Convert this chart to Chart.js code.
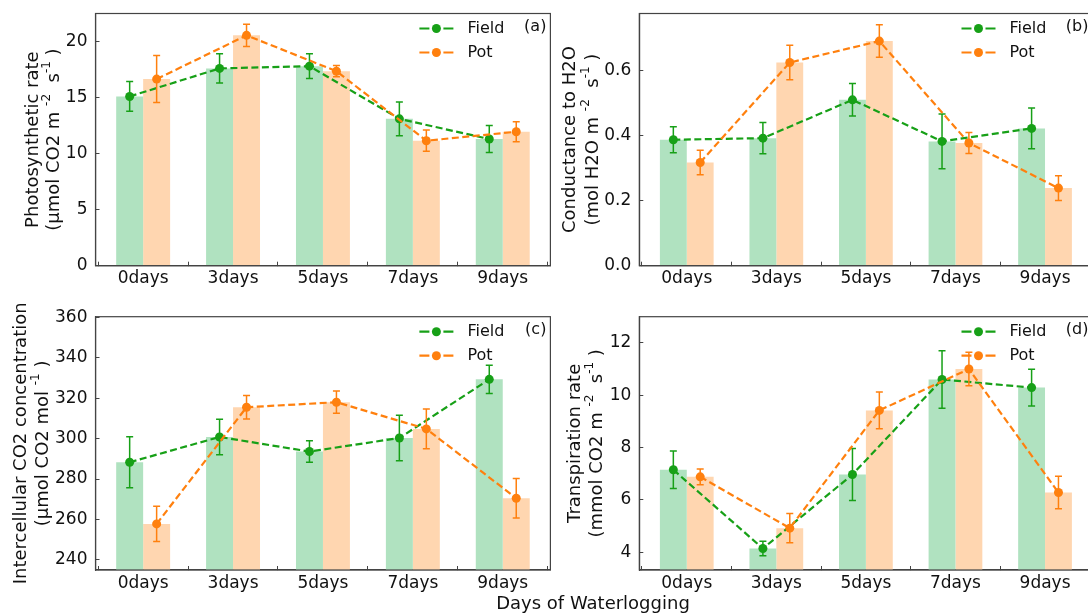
<!DOCTYPE html>
<html><head><meta charset="utf-8">
<script src="https://cdn.jsdelivr.net/npm/chart.js@4.4.1/dist/chart.umd.min.js"></script>
<style>
html,body{margin:0;padding:0;background:#fff;}
#wrap{position:relative;width:1088px;height:615px;overflow:hidden;background:#fff;}
#wrap canvas{position:absolute;}
#xt{position:absolute;left:393px;width:400px;top:592px;text-align:center;font:18px 'DejaVu Sans';color:#111;line-height:22px;}
</style></head><body>
<div id="wrap">
<canvas id="ca" style="left:0;top:0" width="560" height="300"></canvas>
<canvas id="cb" style="left:545px;top:0" width="560" height="300"></canvas>
<canvas id="cc" style="left:0;top:300px" width="560" height="300"></canvas>
<canvas id="cd" style="left:545px;top:300px" width="560" height="300"></canvas>
<div id="xt">Days of Waterlogging</div>
</div>
<script>
// ---- data ----
const CATS = ['0days', '3days', '5days', '7days', '9days'];
const SERIES = ['Field', 'Pot'];

const A_FIELD = [15.1, 17.6, 17.8, 13.1, 11.3];
const A_FIELD_ERR = [1.33, 1.3, 1.1, 1.5, 1.2];
const A_POT = [16.65, 20.55, 17.35, 11.15, 11.95];
const A_POT_ERR = [2.1, 1.0, 0.5, 0.95, 0.9];

const B_FIELD = [0.388, 0.393, 0.511, 0.383, 0.423];
const B_FIELD_ERR = [0.04, 0.048, 0.05, 0.084, 0.063];
const B_POT = [0.318, 0.626, 0.692, 0.378, 0.239];
const B_POT_ERR = [0.038, 0.053, 0.05, 0.032, 0.038];

const C_FIELD = [288.3, 300.8, 293.6, 300.3, 329.3];
const C_FIELD_ERR = [12.6, 8.8, 5.3, 11.3, 7.0];
const C_POT = [257.8, 315.5, 318.0, 304.8, 270.5];
const C_POT_ERR = [8.7, 5.8, 5.5, 9.8, 9.8];

const D_FIELD = [7.15, 4.14, 6.97, 10.6, 10.29];
const D_FIELD_ERR = [0.72, 0.28, 0.99, 1.1, 0.7];
const D_POT = [6.88, 4.92, 9.42, 11.0, 6.28];
const D_POT_ERR = [0.3, 0.56, 0.7, 0.64, 0.62];

// ---- styles ----
const FONT = "'DejaVu Sans', 'Liberation Sans', sans-serif";
const LINE_COLORS = ['#17a017', '#ff800e'];
const BAR_COLORS = ['rgb(176,226,192)', 'rgb(255,214,176)'];
const BAR_W = 0.3;
const DASH = [7, 3.5];

Chart.defaults.font.family = FONT;
Chart.defaults.color = '#111';

const errorBars = {
  id: 'errorBars',
  beforeDatasetDraw(chart, args) {
    const ds = chart.data.datasets[args.index];
    if (!ds.errors) return;
    const y = chart.scales.y;
    const ctx = chart.ctx;
    ctx.save();
    ctx.strokeStyle = ds.borderColor;
    ctx.lineWidth = 1.5;
    ctx.setLineDash([]);
    args.meta.data.forEach((pt, i) => {
      const v = ds.data[i].y, e = ds.errors[i];
      const y1 = y.getPixelForValue(v + e), y2 = y.getPixelForValue(v - e);
      ctx.beginPath();
      ctx.moveTo(pt.x, y1); ctx.lineTo(pt.x, y2);
      ctx.moveTo(pt.x - 3.5, y1); ctx.lineTo(pt.x + 3.5, y1);
      ctx.moveTo(pt.x - 3.5, y2); ctx.lineTo(pt.x + 3.5, y2);
      ctx.stroke();
    });
    ctx.restore();
  }
};

const frameAndDecor = {
  id: 'frameAndDecor',
  afterDraw(chart, args, o) {
    const ctx = chart.ctx, a = chart.chartArea;
    ctx.save();
    // frame
    ctx.strokeStyle = '#444';
    ctx.lineWidth = 1.2;
    ctx.setLineDash([]);
    ctx.strokeRect(a.left, a.top, a.right - a.left, a.bottom - a.top);
    // legend
    const lines = chart.data.datasets.filter(d => d.type === 'line');
    lines.forEach((d, k) => {
      const yy = a.top + o.legendTop + k * 24;
      ctx.strokeStyle = d.borderColor;
      ctx.lineWidth = 2.2;
      ctx.beginPath();
      ctx.moveTo(a.right - 131, yy); ctx.lineTo(a.right - 121, yy);
      ctx.moveTo(a.right - 107, yy); ctx.lineTo(a.right - 97, yy);
      ctx.stroke();
      ctx.fillStyle = d.borderColor;
      ctx.beginPath(); ctx.arc(a.right - 114, yy, 4.5, 0, Math.PI * 2); ctx.fill();
      ctx.fillStyle = '#111';
      ctx.font = '16px ' + FONT;
      ctx.textBaseline = 'middle'; ctx.textAlign = 'left';
      ctx.fillText(d.label, a.right - 83, yy);
    });
    // panel letter
    ctx.fillStyle = '#111';
    ctx.font = '16px ' + FONT;
    ctx.textAlign = 'right'; ctx.textBaseline = 'middle';
    ctx.fillText(o.letter, a.right - 4, a.top + o.letterTop);
    // y title (two lines, rotated)
    const cy = (a.top + a.bottom) / 2;
    o.titles.forEach((segs, li) => {
      ctx.save();
      ctx.translate(o.titleX[li], cy);
      ctx.rotate(-Math.PI / 2);
      ctx.textBaseline = 'middle'; ctx.textAlign = 'left';
      const parts = segs.map(([t, sup]) => {
        const f = (sup ? 12 : 18) + 'px ' + FONT;
        ctx.font = f;
        return { t, sup, f, w: ctx.measureText(t).width };
      });
      let x = -parts.reduce((s, p) => s + p.w, 0) / 2;
      parts.forEach(p => {
        ctx.font = p.f;
        ctx.fillText(p.t, x, p.sup ? -7 : 0);
        x += p.w;
      });
      ctx.restore();
    });
    ctx.restore();
  }
};

function makePanel(id, cfg) {
  const datasets = [];
  const vals = [cfg.field, cfg.pot];
  const errs = [cfg.fieldErr, cfg.potErr];
  [0, 1].forEach(s => {
    datasets.push({
      type: 'line', label: SERIES[s],
      data: vals[s].map((v, i) => ({ x: i + (s === 0 ? -BAR_W / 2 : BAR_W / 2), y: v })),
      errors: errs[s],
      borderColor: LINE_COLORS[s], backgroundColor: LINE_COLORS[s],
      borderWidth: 2.2, borderDash: DASH, tension: 0, fill: false,
      pointRadius: 4.5, pointHoverRadius: 4.5, pointBorderWidth: 0,
      pointBackgroundColor: LINE_COLORS[s],
      order: s === 0 ? 1 : 0
    });
  });
  [0, 1].forEach(s => {
    datasets.push({
      type: 'bar', label: SERIES[s] + ' bar',
      data: vals[s].map((v, i) => ({ x: i, y: v })),
      backgroundColor: BAR_COLORS[s], borderWidth: 0,
      categoryPercentage: 2 * BAR_W, barPercentage: 1,
      grouped: true,
      order: s === 0 ? 2 : 3
    });
  });
  return new Chart(document.getElementById(id), {
    type: 'bar',
    data: { datasets },
    plugins: [errorBars, frameAndDecor],
    options: {
      responsive: false, animation: false, devicePixelRatio: 1,
      events: [],
      layout: { padding: { left: 0, top: cfg.padTop, right: cfg.padRight, bottom: 0 } },
      plugins: {
        legend: { display: false }, tooltip: { enabled: false },
        frameAndDecor: { letter: cfg.letter, legendTop: 15, letterTop: 13, titles: cfg.titles, titleX: cfg.titleX }
      },
      scales: {
        x: {
          type: 'linear', min: -0.53, max: 4.53, offset: false,
          afterBuildTicks: s => { s.ticks = CATS.map((c, i) => ({ value: i })); },
          afterFit: s => { s.height = cfg.xH; s.paddingLeft = 0; s.paddingRight = 0; s.paddingTop = 0; s.paddingBottom = 0; },
          ticks: { callback: v => CATS[v] ?? '', autoSkip: false, maxRotation: 0, padding: 7,
                   font: { size: 17 }, color: '#111' },
          grid: { display: true, drawOnChartArea: false, drawTicks: true, tickLength: -4, color: '#444', lineWidth: 1 },
          border: { display: true, color: '#444', width: 1.2 }
        },
        y: {
          type: 'linear', min: cfg.ymin, max: cfg.ymax,
          afterFit: s => { s.width = cfg.yW; s.paddingTop = 0; s.paddingBottom = 0; s.paddingLeft = 0; s.paddingRight = 0; },
          ticks: { stepSize: cfg.step, includeBounds: false, padding: 12, font: { size: 17 }, color: '#111',
                   callback: v => cfg.fmt(v) },
          grid: { display: true, drawOnChartArea: false, drawTicks: true, tickLength: -4, color: '#444', lineWidth: 1 },
          border: { display: true, color: '#444', width: 1.2 }
        }
      }
    }
  });
}

makePanel('ca', {
  field: A_FIELD, fieldErr: A_FIELD_ERR, pot: A_POT, potErr: A_POT_ERR,
  ymin: 0, ymax: 22.5, step: 5, fmt: v => String(v),
  letter: '(a)', yW: 95.5, xH: 34.3, padTop: 13.5, padRight: 9.6,
  titleX: [33, 54],
  titles: [[['Photosynthetic rate', 0]],
           [['(µmol CO2 m ', 0], ['-2', 1], ['  s', 0], ['-1', 1], [' )', 0]]]
});
makePanel('cb', {
  field: B_FIELD, fieldErr: B_FIELD_ERR, pot: B_POT, potErr: B_POT_ERR,
  ymin: 0, ymax: 0.777, step: 0.2, fmt: v => v.toFixed(1),
  letter: '(b)', yW: 94.3, xH: 34.3, padTop: 13.5, padRight: 12.5,
  titleX: [25, 48],
  titles: [[['Conductance to H2O', 0]],
           [['(mol H2O m ', 0], ['-2', 1], ['  s', 0], ['-1', 1], [' )', 0]]]
});
makePanel('cc', {
  field: C_FIELD, fieldErr: C_FIELD_ERR, pot: C_POT, potErr: C_POT_ERR,
  ymin: 235, ymax: 360.3, step: 20, fmt: v => String(v),
  letter: '(c)', yW: 95.5, xH: 30, padTop: 16.7, padRight: 9.6,
  titleX: [21, 43],
  titles: [[['Intercellular CO2 concentration', 0]],
           [['(µmol CO2 mol ', 0], ['-1', 1], [' )', 0]]]
});
makePanel('cd', {
  field: D_FIELD, fieldErr: D_FIELD_ERR, pot: D_POT, potErr: D_POT_ERR,
  ymin: 3.32, ymax: 13.0, step: 2, fmt: v => String(v),
  letter: '(d)', yW: 94.3, xH: 30, padTop: 16.7, padRight: 12.5,
  titleX: [30, 52],
  titles: [[['Transpiration rate', 0]],
           [['(mmol CO2 m ', 0], ['-2', 1], ['  s', 0], ['-1', 1], [' )', 0]]]
});
</script>
</body></html>
